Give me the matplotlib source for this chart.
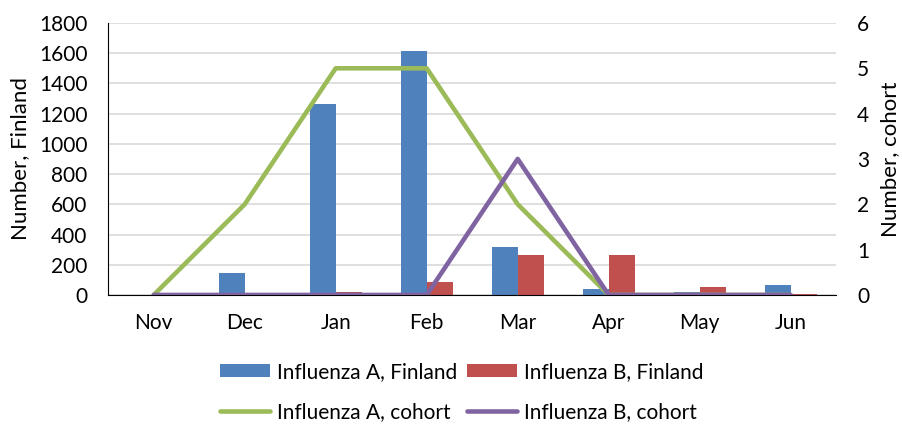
import matplotlib
matplotlib.use("Agg")
import matplotlib.pyplot as plt
import numpy as np

months = ["Nov", "Dec", "Jan", "Feb", "Mar", "Apr", "May", "Jun"]
flu_a_finland = [0, 145, 1262, 1612, 318, 42, 20, 64]
flu_b_finland = [0, 4, 20, 86, 265, 265, 52, 7]
flu_a_cohort = [0, 2, 5, 5, 2, 0, 0, 0]
flu_b_cohort = [0, 0, 0, 0, 3, 0, 0, 0]

BLUE = "#4F81BD"
RED = "#C0504D"
GREEN = "#9BBB59"
PURPLE = "#8064A2"

plt.rcParams["font.family"] = ["Lato", "DejaVu Sans"]
plt.rcParams["font.size"] = 15

fig = plt.figure(figsize=(9.02, 4.25), dpi=100)
ax = fig.add_axes([0.12, 0.306, 0.807, 0.64])
x = np.arange(len(months))
w = 0.286

bar_a = ax.bar(x - w / 2, flu_a_finland, width=w, color=BLUE, label="Influenza A, Finland", zorder=2)
bar_b = ax.bar(x + w / 2, flu_b_finland, width=w, color=RED, label="Influenza B, Finland", zorder=2)
ax.set_xlim(-0.5, len(months) - 0.5)
ax.set_ylim(0, 1800)
ax.set_yticks(range(0, 1801, 200))
ax.set_xticks(x)
ax.set_xticklabels(months)
ax.grid(axis="y", color="#D9D9D9", linewidth=1.2, zorder=0)
ax.set_axisbelow(True)
for s in ("top", "right"):
    ax.spines[s].set_visible(False)
ax.spines["left"].set_color("black")
ax.spines["bottom"].set_color("black")
ax.tick_params(axis="both", length=0)
ax.tick_params(axis="y", pad=15)
ax.tick_params(axis="x", pad=13)
ax.set_ylabel("Number, Finland", fontsize=16, labelpad=6)

ax2 = ax.twinx()
line_a, = ax2.plot(x, flu_a_cohort, color=GREEN, linewidth=3.3, solid_capstyle="round",
                   solid_joinstyle="round", label="Influenza A, cohort")
line_b, = ax2.plot(x, flu_b_cohort, color=PURPLE, linewidth=3.3, solid_capstyle="round",
                   solid_joinstyle="round", label="Influenza B, cohort")
ax2.set_ylim(0, 6)
ax2.set_yticks(range(0, 7))
for s in ("top", "right", "left", "bottom"):
    ax2.spines[s].set_visible(False)
ax2.tick_params(axis="y", length=0, pad=15)
ax2.set_ylabel("Number, cohort", fontsize=16, labelpad=8)

fig.legend([bar_a, line_a, bar_b, line_b],
           ["Influenza A, Finland", "Influenza A, cohort", "Influenza B, Finland", "Influenza B, cohort"],
           ncol=2, loc="center", bbox_to_anchor=(0.512, 0.078), frameon=False,
           handlelength=2.4, handleheight=0.6, handletextpad=0.3, columnspacing=0.5,
           labelspacing=0.95, fontsize=15)

fig.savefig("out.png", dpi=100)
